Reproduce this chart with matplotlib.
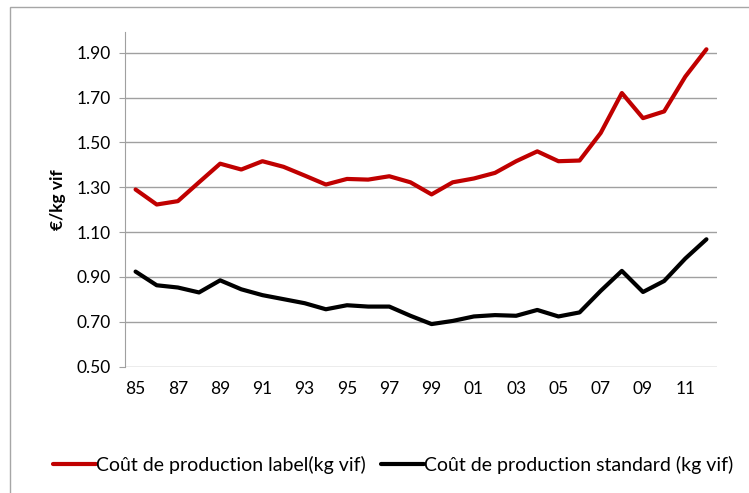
import matplotlib
matplotlib.use('Agg')
import matplotlib.pyplot as plt
from matplotlib.patches import Rectangle
import numpy as np

# années 1985 -> 2012
annees = ['85', '86', '87', '88', '89', '90', '91', '92', '93', '94',
          '95', '96', '97', '98', '99', '00', '01', '02', '03', '04',
          '05', '06', '07', '08', '09', '10', '11', '12']

# coût de production label (€/kg vif)
label = [1.29, 1.223, 1.238, 1.322, 1.405, 1.379, 1.416, 1.391, 1.352, 1.312,
         1.337, 1.334, 1.349, 1.322, 1.268, 1.322, 1.339, 1.364, 1.416, 1.46,
         1.416, 1.419, 1.542, 1.72, 1.608, 1.638, 1.793, 1.915]

# coût de production standard (€/kg vif)
standard = [0.924, 0.863, 0.853, 0.831, 0.885, 0.845, 0.819, 0.801, 0.783, 0.756,
            0.774, 0.768, 0.768, 0.727, 0.690, 0.704, 0.724, 0.730, 0.727, 0.753,
            0.724, 0.742, 0.838, 0.927, 0.833, 0.882, 0.982, 1.068]

y_ticks = [0.50, 0.70, 0.90, 1.10, 1.30, 1.50, 1.70, 1.90]

plt.rcParams['font.family'] = ['Lato', 'DejaVu Sans']

fig = plt.figure(figsize=(7.49, 4.93), dpi=100)
ax = fig.add_axes([125 / 749, 1 - 366.7 / 493, 592 / 749, 334.7 / 493])

# cadre du graphique
fig.patches.append(Rectangle((10 / 749, -0.1), 1.2, 1 - 7 / 493 + 0.1,
                             transform=fig.transFigure, fill=False,
                             edgecolor='#a6a6a6', linewidth=1))

x = np.arange(len(annees))
ax.plot(x, label, color='#c00000', linewidth=3, solid_capstyle='round',
        label='Coût de production label(kg vif)')
ax.plot(x, standard, color='black', linewidth=3, solid_capstyle='round',
        label='Coût de production standard (kg vif)')

ax.set_xlim(-0.5, len(annees) - 0.5)
ax.set_ylim(0.50, 1.992)
ax.set_yticks(y_ticks)
ax.set_yticklabels(['%.2f' % v for v in y_ticks])
ax.set_xticks(x[::2])
ax.set_xticklabels(annees[::2])

ax.grid(axis='y', color='#a0a0a0', linewidth=1)
ax.set_axisbelow(True)
for s in ['top', 'right', 'bottom']:
    ax.spines[s].set_visible(False)
ax.spines['left'].set_color('#a0a0a0')
ax.tick_params(axis='y', length=4, color='#a0a0a0', labelsize=12.5, pad=6)
ax.tick_params(axis='x', length=0, labelsize=12.5, pad=10)

ax.set_ylabel('€/kg vif', fontsize=12.5, fontweight='bold', labelpad=8)

fig.legend(loc='center', bbox_to_anchor=(393 / 749, 1 - 465 / 493), ncol=2,
           frameon=False, fontsize=14, handlelength=2.2, handletextpad=0.0,
           columnspacing=0.8)

fig.savefig('out.png', dpi=100)
